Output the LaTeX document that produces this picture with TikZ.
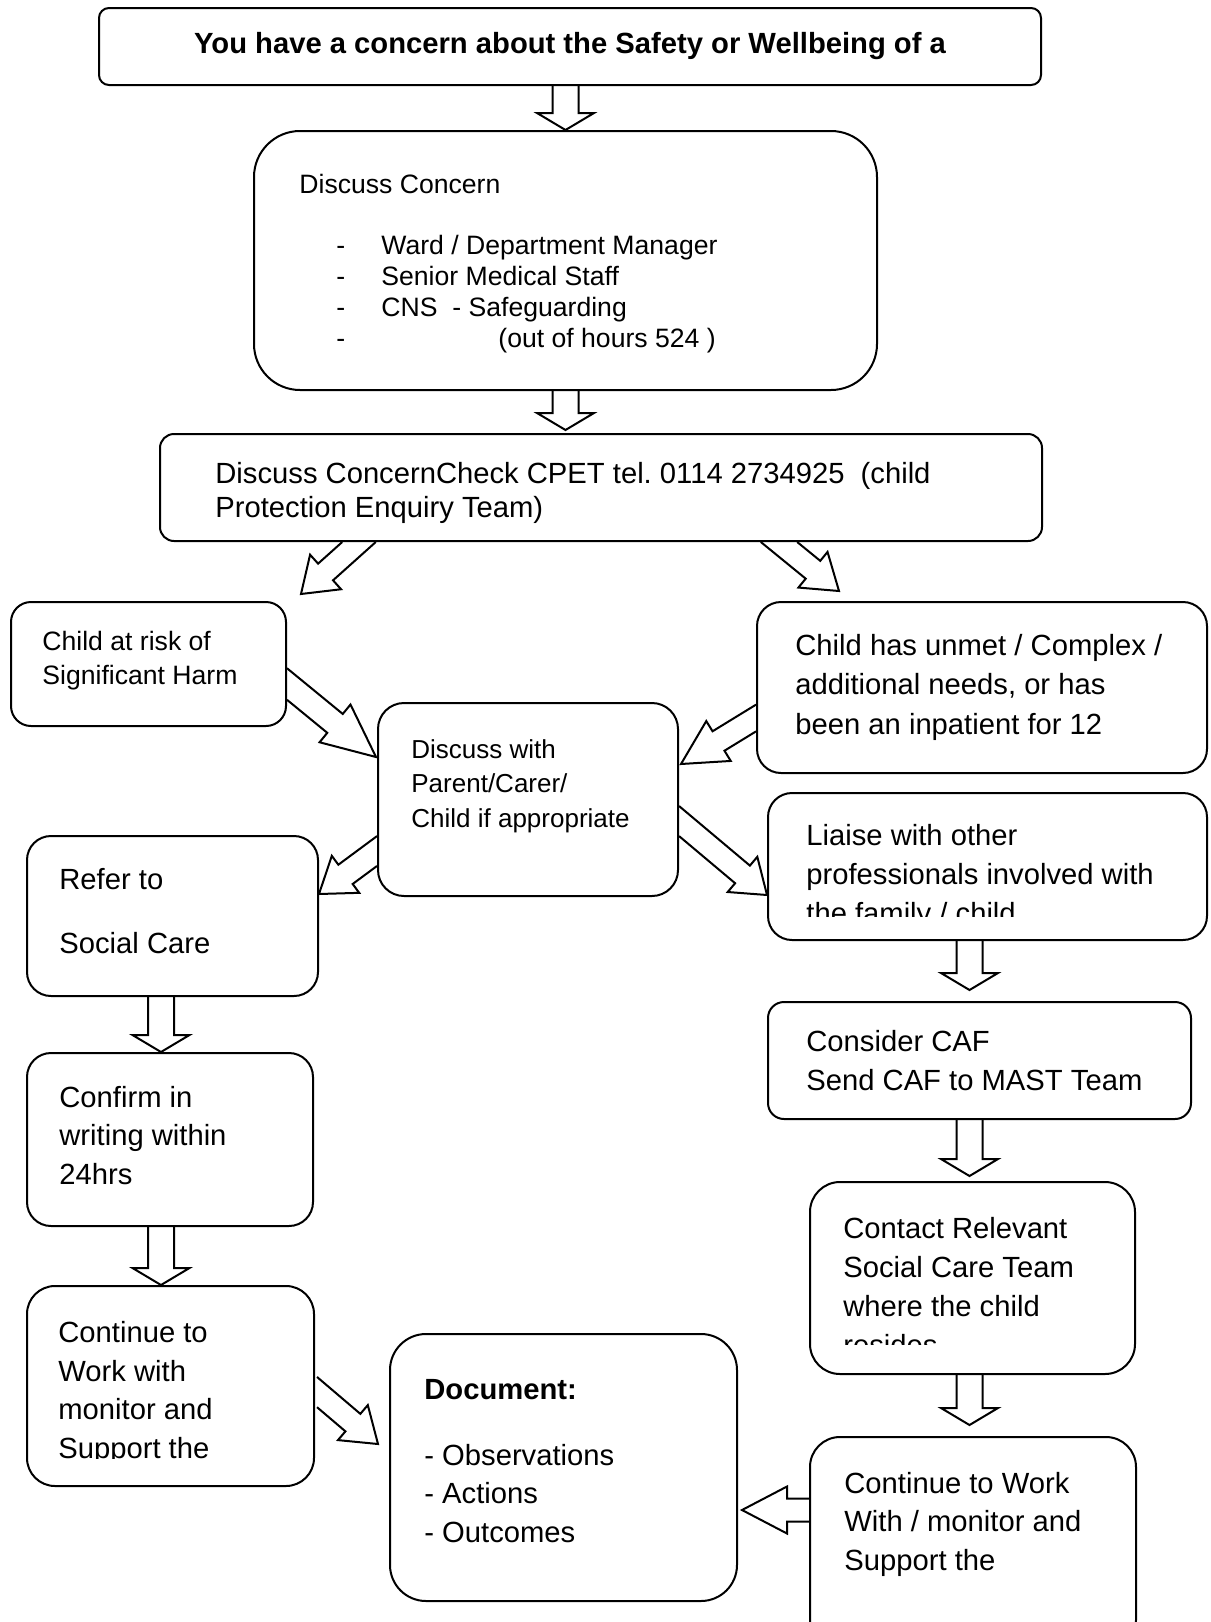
\documentclass[tikz,border=0pt]{standalone}
\usepackage{fontspec}
\setmainfont{Liberation Sans}
\usetikzlibrary{calc}
\frenchspacing

% hollow block arrow: [edge direction] shaft half width, head half width, head length, from, to
\newcommand{\fatarrow}[6][1,0]{%
  \coordinate (es) at (#5);
  \coordinate (ee) at ($(es)+(#1)$);
  \coordinate (hb) at ($(#6)!#4!(#5)$);
  \coordinate (sl) at ($(es)!#2!90:(#6)$);
  \coordinate (hl) at ($(hb)!#2!90:(#6)$);
  \coordinate (sr) at ($(es)!#2!-90:(#6)$);
  \coordinate (hr) at ($(hb)!#2!-90:(#6)$);
  \draw[fat] (intersection of sl--hl and es--ee) -- (hl) -- ($(hb)!#3!90:(#6)$)
    -- (#6) -- ($(hb)!#3!-90:(#6)$) -- (hr) -- (intersection of sr--hr and es--ee);}
\newcommand{\itemdash}{\makebox[22.5pt][l]{-}}

\begin{document}
\begin{tikzpicture}[
      x=0.5pt, y=-0.5pt,
      box/.style={draw, line width=1pt, rectangle, inner sep=0pt},
      fat/.style={draw, line width=1pt, line join=miter},
      big/.style={font=\fontsize{14.6pt}{19.5pt}\selectfont, align=left,
                  inner sep=0pt, anchor=base west},
      small/.style={font=\fontsize{13.3pt}{17pt}\selectfont, align=left,
                    inner sep=0pt, anchor=base west},
      heading/.style={font=\fontsize{14.6pt}{17pt}\selectfont\bfseries,
                      inner sep=0pt},
    ]
    \useasboundingbox (0,0) rectangle (1210,1622);
    \clip (0,0) rectangle (1210,1622);

    % boxes
    \node[box, rounded corners=5pt, minimum width=471pt, minimum height=38.5pt] (top) at (570,46.5) {};
    \node[box, rounded corners=23pt, minimum width=311.5pt, minimum height=129.5pt] (discuss) at (565.5,260.5) {};
    \node[box, rounded corners=7pt, minimum width=441pt, minimum height=53.5pt] (cpet) at (601,487.5) {};
    \node[box, rounded corners=10pt, minimum width=137.5pt, minimum height=62pt] (risk) at (148.5,664) {};
    \node[box, rounded corners=12pt, minimum width=225pt, minimum height=85.5pt] (needs) at (982,687.5) {};
    \node[box, rounded corners=13pt, minimum width=150pt, minimum height=96.5pt] (parent) at (528,799.5) {};
    \node[box, rounded corners=12pt, minimum width=145.5pt, minimum height=80pt] (refer) at (172.5,916) {};
    \node[box, rounded corners=12pt, minimum width=219.5pt, minimum height=73.5pt] (liaise) at (987.5,866.5) {};
    \node[box, rounded corners=8pt, minimum width=211.5pt, minimum height=58.5pt] (caf) at (979.5,1060.5) {};
    \node[box, rounded corners=15pt, minimum width=162.5pt, minimum height=96pt] (contact) at (972.5,1278) {};
    \node[box, rounded corners=15pt, minimum width=163pt, minimum height=106.5pt] (cont2) at (973,1543.5) {};
    \node[box, rounded corners=18pt, minimum width=173.5pt, minimum height=133.5pt] (doc) at (563.5,1467.5) {};
    \node[box, rounded corners=12pt, minimum width=143pt, minimum height=86.5pt] (confirm) at (170,1139.5) {};
    \node[box, rounded corners=14pt, minimum width=143.5pt, minimum height=100pt] (cont1) at (170.5,1386) {};

    % texts (base = last line)
    \node[heading, anchor=base] (t-top) at (570,54)
      {You have a concern about the Safety or Wellbeing of a};
    \node[small] (t-discuss) at (299,193) {Discuss Concern};
    \node[small, font=\fontsize{13.3pt}{15.5pt}\selectfont] (t-staff) at (336,347)
      {\itemdash Ward / Department Manager\\
       \itemdash Senior Medical Staff\\
       \itemdash CNS\ \ - Safeguarding\\
       \makebox[81pt][l]{-}(out of hours 524 )};
    \node[big, font=\fontsize{14.6pt}{17pt}\selectfont] (t-cpet) at (215,517)
      {Discuss ConcernCheck CPET tel. 0114 2734925\ \ (child\\Protection Enquiry Team)};
    \node[small] (t-risk) at (42,684) {Child at risk of\\Significant Harm};
    \node[big, font=\fontsize{14.6pt}{19.75pt}\selectfont] (t-needs) at (795,734)
      {Child has unmet / Complex /\\additional needs, or has\\been an inpatient for 12};
    \node[small, font=\fontsize{13pt}{17.25pt}\selectfont] (t-parent) at (411,827)
      {Discuss with\\Parent/Carer/\\Child if appropriate};
    \node[big, font=\fontsize{14.6pt}{32pt}\selectfont] (t-refer) at (59,953) {Refer to\\Social Care};
    \begin{scope}
      \clip (liaise.north west) rectangle ($(liaise.south east)+(0,-25)$);
      \node[big] (t-liaise) at (806,923)
        {Liaise with other\\professionals involved with\\the family / child};
    \end{scope}
    \node[big] (t-caf) at (806,1090) {Consider CAF\\Send CAF to MAST Team};
    \begin{scope}
      \clip (contact.north west) rectangle ($(contact.south east)+(0,-31)$);
      \node[big] (t-contact) at (843,1355)
        {Contact Relevant\\Social Care Team\\where the child\\resides};
    \end{scope}
    \node[big, font=\fontsize{14.6pt}{19.25pt}\selectfont] (t-cont2) at (844,1570)
      {Continue to Work\\With / monitor and\\Support the};
    \node[heading, anchor=base west] (t-doc) at (424,1399) {Document:};
    \node[big, font=\fontsize{14.6pt}{19.25pt}\selectfont] (t-list) at (424,1542)
      {- Observations\\- Actions\\- Outcomes};
    \node[big, font=\fontsize{14.6pt}{19.25pt}\selectfont] (t-confirm) at (59,1184)
      {Confirm in\\writing within\\24hrs};
    \begin{scope}
      \clip (cont1.north west) rectangle ($(cont1.south east)+(0,-29)$);
      \node[big, font=\fontsize{14.6pt}{19.2pt}\selectfont] (t-cont1) at (58,1458)
        {Continue to\\Work with\\monitor and\\Support the};
    \end{scope}

    % arrow ends
    \coordinate (a1s) at (discuss.north |- top.south);
    \coordinate (a2e) at ($(discuss.south |- cpet.north)+(0,-3)$);
    \coordinate (a3s) at ($(liaise.south)+(-18,0)$);
    \coordinate (a3e) at ($(a3s |- caf.north)+(0,-11)$);
    \coordinate (a4s) at ($(caf.south)+(-10,0)$);
    \coordinate (a4e) at ($(a4s |- contact.north)+(0,-5)$);
    \coordinate (a5s) at ($(contact.south)+(-3,0)$);
    \coordinate (a5e) at ($(a5s |- cont2.north)+(0,-11)$);
    \coordinate (a6s) at ($(refer.south)+(-11.5,0)$);
    \coordinate (a6e) at (a6s |- confirm.north);
    \coordinate (a7s) at ($(confirm.south)+(-9,0)$);
    \coordinate (a7e) at (a7s |- cont1.north);
    \coordinate (a8s) at ($(cpet.south west)+(200,0)$);
    \coordinate (a8e) at ($(risk.north east)+(14,-7)$);
    \coordinate (a9s) at ($(cpet.south west)+(620,0)$);
    \coordinate (a9e) at ($(needs.north west)+(83,-10)$);
    \coordinate (a10s) at ($(risk.south east)+(0,-43)$);
    \coordinate (a10e) at ($(parent.north west)+(-1,55)$);
    \coordinate (a11s) at ($(needs.south west)+(0,-56)$);
    \coordinate (a11e) at ($(parent.north east)+(2,62)$);
    \coordinate (a12s) at ($(parent.south west)+(0,-46)$);
    \coordinate (a12e) at ($(refer.north east)+(0,59)$);
    \coordinate (a13s) at ($(parent.south east)+(0,-76)$);
    \coordinate (a13e) at ($(liaise.north west)+(0,103)$);
    \coordinate (a14s) at ($(cont1.north east)+(2,107)$);
    \coordinate (a14e) at ($(doc.north west)+(-11,111)$);
    \coordinate (a15s) at ($(cont2.north west)+(0,74)$);
    \coordinate (a15e) at ($(doc.north east)+(4,177)$);

    % block arrows
    \fatarrow{6.5pt}{14.25pt}{8.5pt}{a1s}{discuss.north}
    \fatarrow{6.5pt}{14.25pt}{8.5pt}{discuss.south}{a2e}
    \fatarrow{6.5pt}{14.25pt}{8.5pt}{a3s}{a3e}
    \fatarrow{6.5pt}{14.25pt}{8.5pt}{a4s}{a4e}
    \fatarrow{6.5pt}{14.25pt}{8.5pt}{a5s}{a5e}
    \fatarrow{6.5pt}{14.25pt}{8.5pt}{a6s}{a6e}
    \fatarrow{6.5pt}{14.25pt}{8.5pt}{a7s}{a7e}
    \fatarrow{5.6pt}{11.6pt}{16.5pt}{a8s}{a8e}
    \fatarrow{5.75pt}{11.5pt}{16.8pt}{a9s}{a9e}
    \fatarrow[0,1]{6.1pt}{12.2pt}{26.5pt}{a10s}{a10e}
    \fatarrow[0,1]{5.7pt}{11.7pt}{22pt}{a11s}{a11e}
    \fatarrow[0,1]{6pt}{11.5pt}{16.5pt}{a12s}{a12e}
    \fatarrow[0,1]{5.75pt}{11.5pt}{16pt}{a13s}{a13e}
    \fatarrow[0,1]{5.75pt}{11.5pt}{16.5pt}{a14s}{a14e}
    \fatarrow[0,1]{5.75pt}{11.75pt}{22.5pt}{a15s}{a15e}
  \end{tikzpicture}
\end{document}
